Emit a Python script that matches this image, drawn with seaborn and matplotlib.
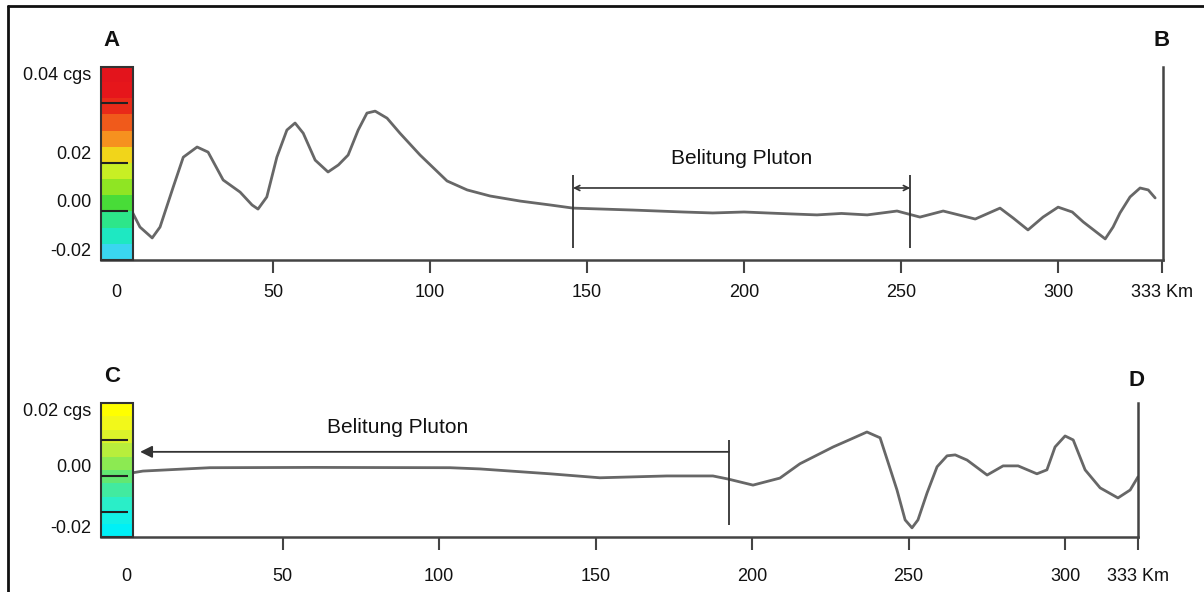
import numpy as np
import pandas as pd
import seaborn as sns
import matplotlib.pyplot as plt
import matplotlib.colors as mcolors
from matplotlib.lines import Line2D
from matplotlib.patches import Rectangle

# profile A-B (km, cgs)
km_ab = [5.0, 7.6, 11.5, 14.0, 18.2, 21.4, 25.8, 29.3, 34.1, 39.5, 43.3, 45.2, 48.0, 51.2,
         54.4, 57.0, 59.6, 63.4, 67.5, 70.8, 73.9, 77.1, 79.9, 82.5, 86.3, 90.4, 96.8,
         105.4, 111.8, 119.1, 128.7, 138.2, 145.5, 164.6, 180.6, 190.0, 200.0, 207.3,
         215.0, 223.2, 231.0, 239.2, 248.7, 256.0, 263.4, 273.6, 281.5, 285.7, 290.4,
         295.2, 300.0, 304.5, 308.0, 315.0, 317.5, 319.7, 322.9, 326.1, 328.7, 330.9]
g_ab = [0.0, -0.0066, -0.0111, -0.0066, 0.0099, 0.0222, 0.0264, 0.0243, 0.0128, 0.0078,
        0.0025, 0.0008, 0.0058, 0.0222, 0.0334, 0.0363, 0.0321, 0.0210, 0.0161, 0.0190,
        0.0231, 0.0334, 0.0404, 0.0412, 0.0383, 0.0321, 0.0231, 0.0124, 0.0087, 0.0062,
        0.0041, 0.0025, 0.0012, 0.0004, -0.0004, -0.0008, -0.0004, -0.0008, -0.0012,
        -0.0016, -0.0010, -0.0016, 0.0, -0.0025, 0.0, -0.0033, 0.0012, -0.0029, -0.0078,
        -0.0025, 0.0016, -0.0004, -0.0045, -0.0115, -0.0066, -0.0008, 0.0058, 0.0095,
        0.0087, 0.0054]

# profile C-D (km, cgs)
km_cd = [1.9, 5.4, 26.8, 60.0, 103.5, 113.1, 135.5, 151.4, 172.8, 187.5, 192.3, 200.3,
         208.9, 215.3, 225.9, 231.0, 236.7, 240.9, 243.5, 246.3, 248.9, 251.1, 253.0,
         255.9, 259.1, 262.3, 264.9, 268.7, 275.1, 280.2, 285.0, 291.0, 294.2, 296.8,
         300.0, 302.6, 306.4, 311.2, 316.9, 320.8, 323.3]
g_cd = [0.0010, 0.0016, 0.0027, 0.0028, 0.0027, 0.0023, 0.0007, -0.0006, 0.0, 0.0, -0.0010,
        -0.0030, -0.0007, 0.0040, 0.0095, 0.0118, 0.0144, 0.0125, 0.0043, -0.0046, -0.0144,
        -0.0170, -0.0144, -0.0056, 0.0030, 0.0066, 0.0069, 0.0052, 0.0003, 0.0033, 0.0033,
        0.0007, 0.0020, 0.0095, 0.0131, 0.0118, 0.0020, -0.0039, -0.0072, -0.0046, -0.0003]

xticks_ab = [0, 50, 100, 150, 200, 250, 300, 333]
xlabels_ab = ["0", "50", "100", "150", "200", "250", "300", "333 Km"]
xticks_cd = [0, 50, 100, 150, 200, 250, 300, 323.3]
xlabels_cd = ["0", "50", "100", "150", "200", "250", "300", "333 Km"]

ylabels_ab = ["-0.02", "0.00", "0.02", "0.04 cgs"]
ylabels_cd = ["-0.02", "0.00", "0.02 cgs"]

# colour scales
cbar_ab = ["#e3141c", "#e6161b", "#e92a19", "#f05a1b", "#f6911f", "#f1d51a",
           "#c8ef24", "#8fe523", "#48dc38", "#2de68a", "#1ee8c2", "#3ad6f0"]
cbar_cd = ["#ffff00", "#f2f81a", "#dcf22a", "#b8ee3c", "#8cea52", "#62e872",
           "#42eaa0", "#2aeec8", "#12f0e6", "#00f0f6"]
cmarks_ab = [0.0, 0.0198, 0.0445]
cmarks_cd = [-0.0118, 0.0, 0.0118]

# Belitung pluton extents
pluton_ab = (145.5, 252.9)
pluton_cd = (192.6, 4.5)

sns.set_theme(style="white")
plt.rcParams['font.family'] = ['Liberation Sans', 'DejaVu Sans']

W, H = 1204, 592
fig = plt.figure(figsize=(W / 100, H / 100), dpi=100)

line_c = "#676767"
axis_c = "#444444"


def panel(rect, km, g, xlim, ylim, xt, xl, yl, cols, marks, cb_right, mark_right, pad_x):
    ax = fig.add_axes([rect[0] / W, 1 - rect[3] / H, (rect[2] - rect[0]) / W, (rect[3] - rect[1]) / H])
    df = pd.DataFrame({"km": km, "g": g})
    sns.lineplot(data=df, x="km", y="g", ax=ax, color=line_c, lw=2.0, sort=False)
    ax.set_xlim(*xlim)
    ax.set_ylim(*ylim)
    ax.set_xlabel("")
    ax.set_ylabel("")
    for s in ["left", "top"]:
        ax.spines[s].set_visible(False)
    for s in ["bottom", "right"]:
        ax.spines[s].set_color(axis_c)
        ax.spines[s].set_linewidth(1.8)
    ax.set_xticks(xt)
    ax.set_xticklabels(xl)
    ax.tick_params(axis="x", direction="out", length=9, width=1.5, color=axis_c,
                   labelsize=13, pad=pad_x, bottom=True, labelcolor="#111111")
    ax.xaxis.get_major_ticks()[0].tick1line.set_visible(False)
    yt = [-0.02, 0.0] + ([0.02] if len(yl) == 4 else []) + [ylim[1]]
    ax.set_yticks(yt)
    ax.set_yticklabels(yl)
    ax.tick_params(axis="y", length=0, labelsize=13, pad=7, labelcolor="#111111")
    labs = ax.get_yticklabels()
    for lab in labs[:-1]:
        lab.set_verticalalignment("bottom")
    labs[-1].set_verticalalignment("top")

    # colour bar drawn inside the profile
    rgb = np.array([mcolors.to_rgb(c) for c in cols]).reshape(len(cols), 1, 3)
    ax.imshow(rgb, extent=[xlim[0], cb_right, ylim[0], ylim[1]], aspect="auto",
              origin="upper", interpolation="nearest", zorder=3)
    ax.add_patch(Rectangle((xlim[0], ylim[0]), cb_right - xlim[0], ylim[1] - ylim[0],
                           fill=False, ec="#333333", lw=1.5, zorder=4, clip_on=False))
    ax.hlines(marks, xlim[0], mark_right, color="#222222", lw=1.5, zorder=4)
    ax.set_xlim(*xlim)
    ax.set_ylim(*ylim)
    return ax


ax1 = panel((101, 67, 1163, 260), km_ab, g_ab, (-4.8, 333.4), (-0.0202, 0.0594),
            xticks_ab, xlabels_ab, ylabels_ab, cbar_ab, cmarks_ab, 5.4, 3.8, 8)
ax2 = panel((101, 403, 1138, 537), km_cd, g_cd, (-8.0, 323.3), (-0.02, 0.0239),
            xticks_cd, xlabels_cd, ylabels_cd, cbar_cd, cmarks_cd, 2.2, 0.6, 13)

# Belitung pluton, profile A-B
ax1.vlines(pluton_ab, -0.0152, 0.0148, color="#333333", lw=1.3)
ax1.annotate("", xy=(pluton_ab[0], 0.0095), xytext=(pluton_ab[1], 0.0095),
             arrowprops=dict(arrowstyle="<->", color="#333333", lw=1.2,
                             shrinkA=0, shrinkB=0, mutation_scale=9))
ax1.text(sum(pluton_ab) / 2, 0.0218, "Belitung Pluton", ha="center", va="center",
         fontsize=15, color="#111111")

# Belitung pluton, profile C-D
ax2.vlines(pluton_cd[0], -0.016, 0.0118, color="#333333", lw=1.3)
ax2.annotate("", xy=(pluton_cd[1], 0.0079), xytext=(pluton_cd[0], 0.0079),
             arrowprops=dict(arrowstyle="-|>", color="#333333", lw=1.3,
                             shrinkA=0, shrinkB=0, mutation_scale=18))
ax2.text(86.9, 0.016, "Belitung Pluton", ha="center", va="center",
         fontsize=15, color="#111111")

# panel letters
for lab, px, py in [("A", 112, 40), ("B", 1162, 41), ("C", 112, 377), ("D", 1137, 380)]:
    fig.text(px / W, 1 - py / H, lab, ha="center", va="center", fontsize=16,
             fontweight="bold", color="#111111")

# outer frame (left and top only)
fig.add_artist(Line2D([8 / W, 8 / W], [0, 1 - 6 / H], color="#111111", lw=2))
fig.add_artist(Line2D([8 / W, 1], [1 - 6 / H, 1 - 6 / H], color="#111111", lw=2))

fig.savefig("out.png", dpi=100)
